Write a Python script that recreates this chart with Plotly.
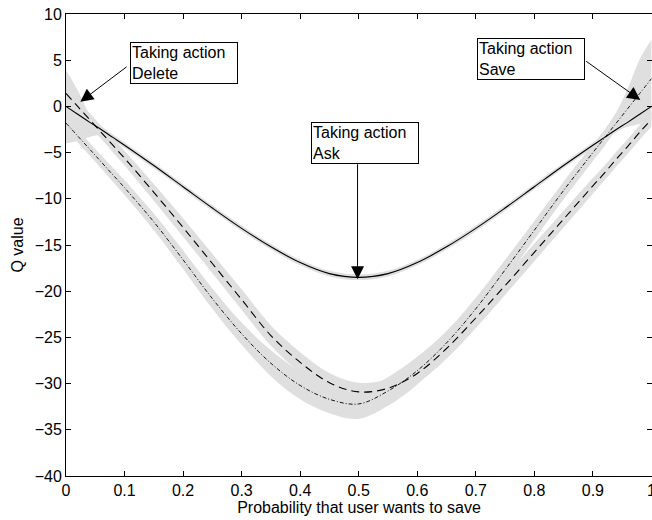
import plotly.graph_objects as go

# ---- data ----
x = [0, 0.02, 0.04, 0.06, 0.08, 0.1, 0.15, 0.2, 0.25, 0.3, 0.35, 0.4, 0.45, 0.5,
     0.55, 0.6, 0.65, 0.7, 0.75, 0.8, 0.85, 0.9, 0.92, 0.94, 0.96, 0.98, 1.0]

q_ask = [0.0, -0.85, -1.7, -2.5, -3.35, -4.2, -6.4, -8.7, -11.0, -13.2, -15.2, -16.9, -18.1, -18.5,
         -18.1, -16.9, -15.2, -13.2, -11.0, -8.7, -6.4, -4.2, -3.35, -2.5, -1.7, -0.85, 0.0]
q_delete = [1.4, 0.0, -1.4, -2.8, -4.2, -5.6, -9.3, -13.1, -17.0, -20.9, -24.8, -27.7, -29.9, -30.9,
            -30.5, -28.9, -26.2, -22.9, -19.4, -15.8, -12.2, -8.6, -7.2, -5.7, -4.3, -2.8, -1.4]
q_save = [-1.8, -3.2, -4.6, -6.0, -7.4, -8.8, -12.5, -16.6, -20.8, -24.6, -27.8, -30.2, -31.7, -32.2,
          -30.8, -28.6, -25.6, -21.9, -17.7, -13.4, -9.1, -5.0, -3.4, -1.8, -0.2, 1.4, 3.0]

# spread of each curve (upper / lower half widths)
ask_up = [3.95, 2.6, 0.9, 0.4, 0.3, 0.3, 0.3, 0.3, 0.3, 0.3, 0.3, 0.3, 0.3, 0.3,
          0.3, 0.3, 0.3, 0.3, 0.3, 0.3, 0.3, 0.3, 0.3, 0.3, 0.3, 0.3, 0.3]
ask_dn = [4.0, 2.9, 1.6, 0.6, 0.3, 0.3, 0.3, 0.3, 0.3, 0.3, 0.3, 0.3, 0.3, 0.3,
          0.3, 0.3, 0.3, 0.3, 0.3, 0.3, 0.3, 0.3, 0.3, 0.3, 0.3, 0.3, 0.3]
delete_up = [0.7, 0.7, 0.7, 0.7, 0.75, 0.8, 0.9, 1.0, 1.05, 1.1, 1.1, 1.1, 1.05, 1.0,
             1.0, 1.05, 1.1, 1.1, 1.0, 0.95, 0.9, 0.85, 0.8, 0.8, 0.8, 0.8, 0.8]
delete_dn = delete_up
save_up = [0.7, 0.7, 0.7, 0.7, 0.75, 0.8, 0.9, 1.0, 1.1, 1.2, 1.4, 1.5, 1.5, 1.5,
           1.5, 1.5, 1.3, 1.2, 1.1, 1.0, 0.95, 0.9, 0.9, 1.2, 2.2, 3.7, 4.2]
save_dn = [0.7, 0.7, 0.7, 0.7, 0.75, 0.8, 0.9, 1.0, 1.1, 1.2, 1.4, 1.5, 1.5, 1.6,
           1.6, 1.5, 1.3, 1.2, 1.1, 1.0, 0.95, 0.9, 0.9, 0.9, 2.0, 3.3, 4.4]

x_ticks = [0, 0.1, 0.2, 0.3, 0.4, 0.5, 0.6, 0.7, 0.8, 0.9, 1]
x_tick_text = ["0", "0.1", "0.2", "0.3", "0.4", "0.5", "0.6", "0.7", "0.8", "0.9", "1"]
y_ticks = [-40, -35, -30, -25, -20, -15, -10, -5, 0, 5, 10]

labels = ["Taking action<br>Delete", "Taking action<br>Ask", "Taking action<br>Save"]
label_box = [(0.1096, 6.97), (0.4193, -1.69), (0.702, 7.4)]       # box top-left
arrow_tail = [(0.106, 4.4), (0.498, -6.1), (0.886, 5.0)]
arrow_head = [(0.0245, 0.5), (0.498, -18.7), (0.981, 0.7)]

BAND = "rgb(223,223,223)"
FONT = "Liberation Sans, Arial, sans-serif"
FS = 16

fig = go.Figure()

for mean, up, dn in [(q_delete, delete_up, delete_dn), (q_save, save_up, save_dn), (q_ask, ask_up, ask_dn)]:
    hi = [m + u for m, u in zip(mean, up)]
    lo = [m - d for m, d in zip(mean, dn)]
    fig.add_trace(go.Scatter(x=x, y=hi, mode="lines", line=dict(width=0, shape="spline", color=BAND),
                             hoverinfo="skip", showlegend=False))
    fig.add_trace(go.Scatter(x=x, y=lo, mode="lines", line=dict(width=0, shape="spline", color=BAND),
                             fill="tonexty", fillcolor=BAND, hoverinfo="skip", showlegend=False))

fig.add_trace(go.Scatter(x=x, y=q_ask, mode="lines", name="Ask",
                         line=dict(color="black", width=1.1, shape="spline"), showlegend=False))
fig.add_trace(go.Scatter(x=x, y=q_delete, mode="lines", name="Delete",
                         line=dict(color="black", width=1.1, shape="spline", dash="8px,5px"), showlegend=False))
fig.add_trace(go.Scatter(x=x, y=q_save, mode="lines", name="Save",
                         line=dict(color="black", width=0.9, shape="spline", dash="4px,2px,1px,2px"),
                         showlegend=False))

for (bx, by), (tx, ty), (hx, hy), txt in zip(label_box, arrow_tail, arrow_head, labels):
    fig.add_annotation(x=hx, y=hy, ax=tx, ay=ty, xref="x", yref="y", axref="x", ayref="y",
                       text="", showarrow=True, arrowhead=2, arrowsize=2.6, arrowwidth=1,
                       arrowcolor="black", standoff=0)
    fig.add_annotation(x=bx, y=by, xref="x", yref="y", text=txt, showarrow=False,
                       xanchor="left", yanchor="top", align="left",
                       font=dict(family=FONT, size=FS, color="black"),
                       bgcolor="white", bordercolor="black", borderwidth=1, borderpad=1,
                       width=104)

axis_common = dict(showline=True, linecolor="black", linewidth=1, mirror="ticks",
                   ticks="inside", ticklen=5, tickcolor="black", showgrid=False,
                   zeroline=False, automargin=False, ticklabeloverflow="allow",
                   tickfont=dict(family=FONT, size=FS, color="black"))

fig.update_xaxes(range=[0, 1.001], tickvals=x_ticks, ticktext=x_tick_text,
                 title=dict(text="Probability that user wants to save",
                            font=dict(family=FONT, size=FS, color="black"), standoff=1),
                 **axis_common)
fig.update_yaxes(range=[-40, 10], tickvals=y_ticks,
                 title=dict(text="Q value", font=dict(family=FONT, size=FS, color="black"), standoff=7),
                 **axis_common)

fig.update_layout(width=652, height=520, margin=dict(l=66, r=0, t=14, b=44),
                  plot_bgcolor="white", paper_bgcolor="white", showlegend=False,
                  font=dict(family=FONT, size=FS, color="black"))

fig.write_html("out.html")
